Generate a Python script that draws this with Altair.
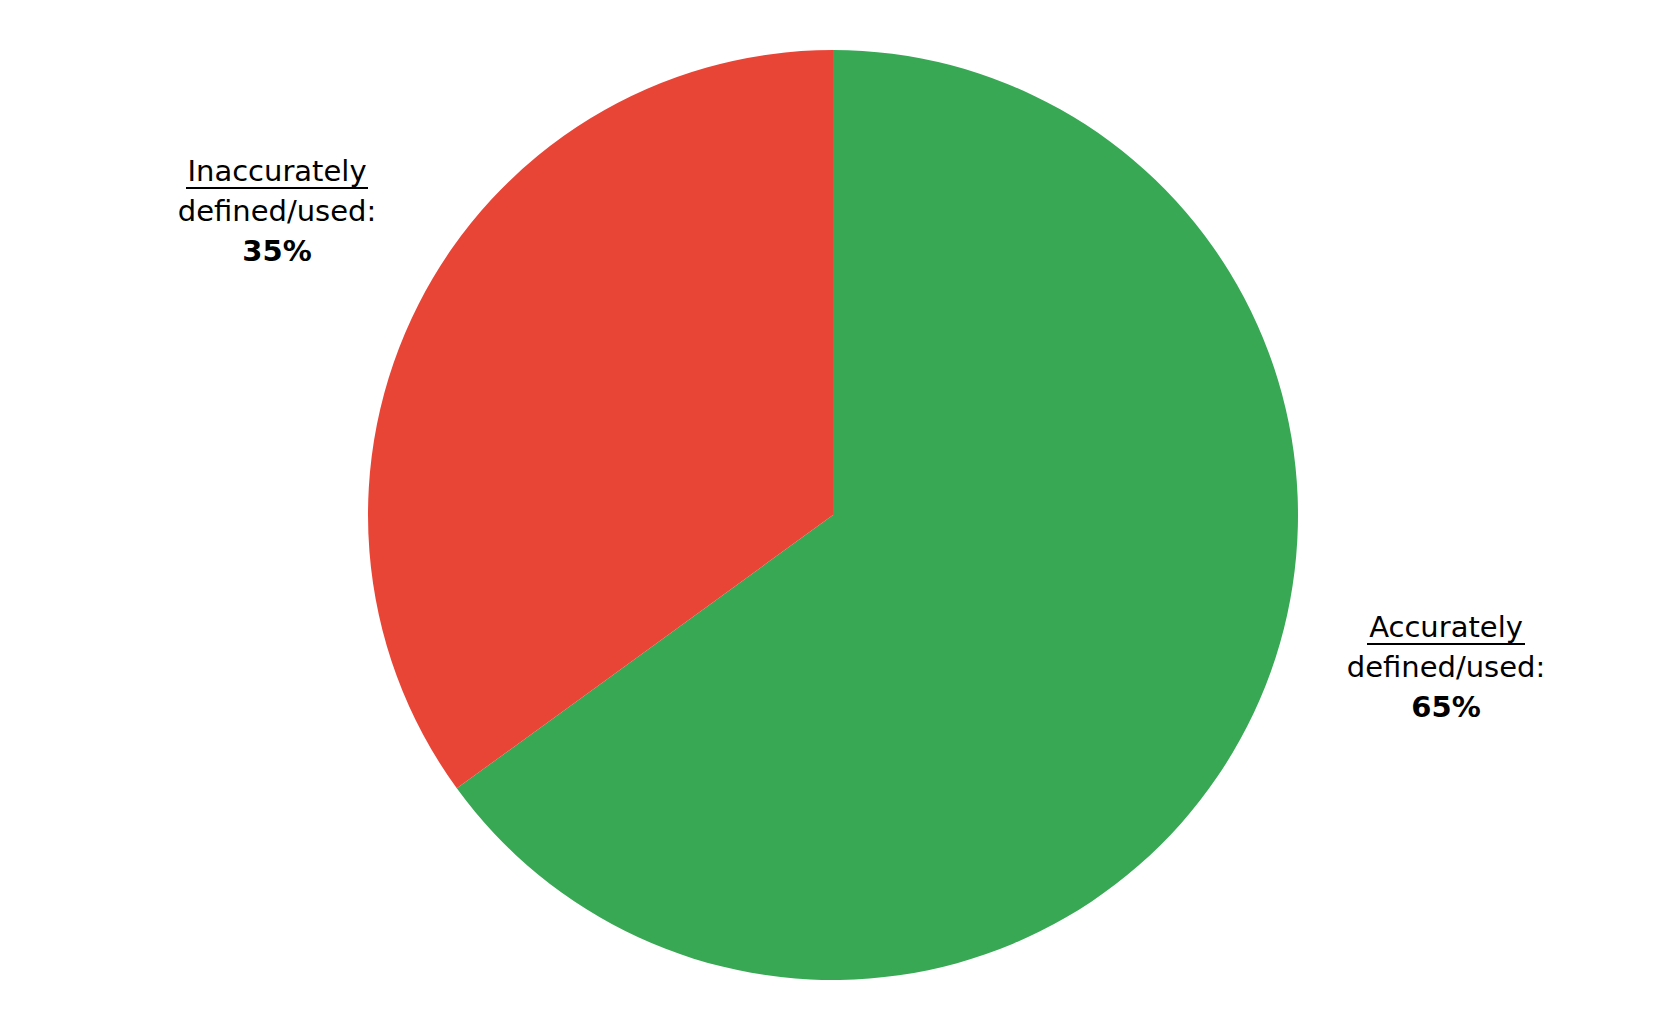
import altair as alt
import pandas as pd

# Data
categories = ["Accurately", "Inaccurately"]
line2 = ["defined/used:", "defined/used:"]
values = [65, 35]
colors = ["#38A855", "#E94537"]

df = pd.DataFrame({"category": categories, "value": values, "order": list(range(len(categories)))})

W, H = 1650, 1014
FONT = "DejaVu Sans"
FS = 29

pie = alt.Chart(df).mark_arc(outerRadius=465, strokeWidth=0).encode(
    theta=alt.Theta("value:Q", stack=True),
    color=alt.Color("category:N", scale=alt.Scale(domain=categories, range=colors), legend=None),
    order=alt.Order("order:Q"),
)

# label layout (pixel positions of annotation text: center x, baseline of first line)
label_pos = {"Accurately": (1438, 629), "Inaccurately": (269, 173)}
underline_half = {"Accurately": 79, "Inaccurately": 91}
LINE = 40

layers = [pie]
for cat, l2, v in zip(categories, line2, values):
    cx, by = label_pos[cat]
    for i, (txt, weight) in enumerate([(cat, "normal"), (l2, "normal"), (f"{v}%", "bold")]):
        layers.append(
            alt.Chart(pd.DataFrame({"t": [txt]})).mark_text(
                font=FONT, fontSize=FS, fontWeight=weight, color="#000000",
                align="center", baseline="alphabetic",
            ).encode(x=alt.value(cx), y=alt.value(by + i * LINE), text="t:N")
        )
    hw = underline_half[cat]
    layers.append(
        alt.Chart(pd.DataFrame({"t": [cat]})).mark_rule(color="#000000", strokeWidth=2).encode(
            x=alt.value(cx - hw), x2=alt.value(cx + hw), y=alt.value(by + 7)
        )
    )

chart = alt.layer(*layers).properties(
    width=W, height=H, padding=0, autosize=alt.AutoSizeParams(type="none")
).configure(background="#ffffff").configure_view(stroke="transparent", strokeWidth=0)

chart.save("out.html", embed_options={"renderer": "svg", "actions": False})
